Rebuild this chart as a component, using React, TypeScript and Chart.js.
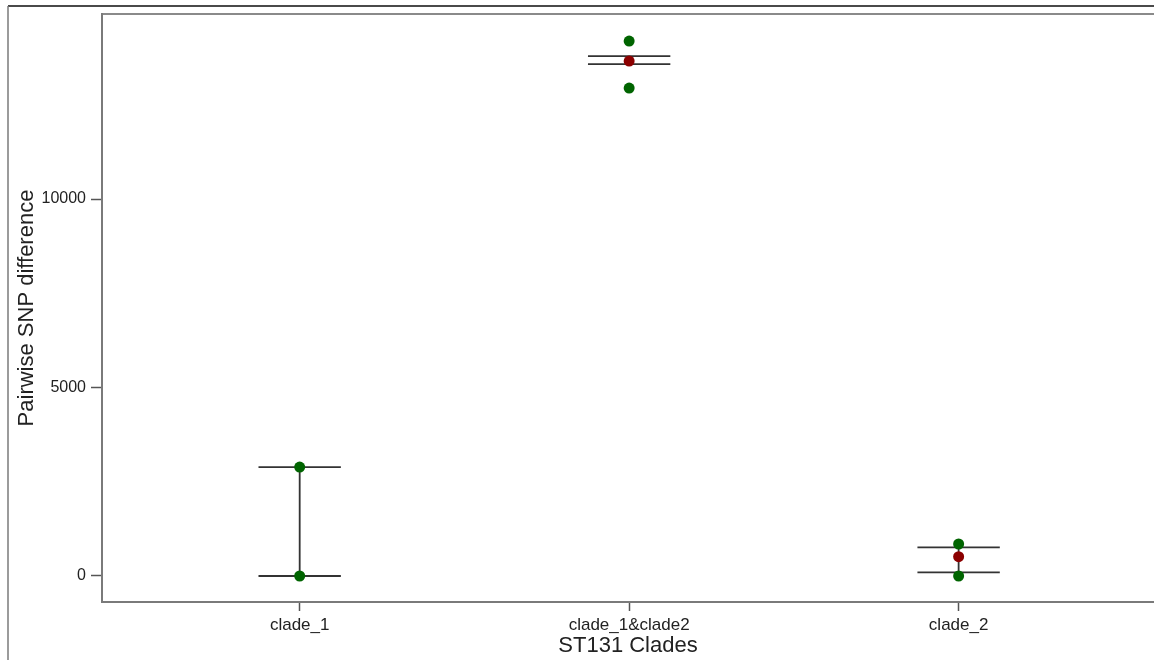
import React, { useEffect, useRef } from "react";
import { Chart, registerables } from "chart.js";

Chart.register(...registerables);

// ---- Data ----
const categories = ["clade_1", "clade_1&clade2", "clade_2"];
const greenValues: number[][] = [[0, 2890], [12944, 14191], [0, 849]];
const redValues: (number | null)[] = [null, 13660, 512];
const barLow = [0, 13581, 98];
const barHigh = [2890, 13793, 761];
const yTicks = [0, 5000, 10000];
const yMin = -690;
const yMax = 14910;
const xMin = -0.6;
const xMax = 2.593;
const whiskerHalf = 0.125;

const FONT = "'Liberation Sans', Arial, Helvetica, sans-serif";

function buildErrorBars() {
  const pts: { x: number; y: number | null }[] = [];
  categories.forEach((_, i) => {
    pts.push({ x: i - whiskerHalf, y: barLow[i] }, { x: i + whiskerHalf, y: barLow[i] }, { x: i, y: null });
    pts.push({ x: i - whiskerHalf, y: barHigh[i] }, { x: i + whiskerHalf, y: barHigh[i] }, { x: i, y: null });
    pts.push({ x: i, y: barLow[i] }, { x: i, y: barHigh[i] }, { x: i, y: null });
  });
  return pts;
}

const framePlugin = {
  id: "frame",
  beforeDraw(chart: any) {
    const ctx = chart.ctx;
    ctx.save();
    ctx.fillStyle = "#ffffff";
    ctx.fillRect(0, 0, chart.width, chart.height);
    // outer frame
    ctx.strokeStyle = "#4a4a4a";
    ctx.lineWidth = 2;
    ctx.beginPath();
    ctx.moveTo(8, 6);
    ctx.lineTo(chart.width, 6);
    ctx.stroke();
    ctx.strokeStyle = "#7a7a7a";
    ctx.lineWidth = 1.5;
    ctx.beginPath();
    ctx.moveTo(8, 6);
    ctx.lineTo(8, chart.height);
    ctx.stroke();
    // top border of plot panel
    const a = chart.chartArea;
    ctx.strokeStyle = "#8a8a8a";
    ctx.lineWidth = 2;
    ctx.beginPath();
    ctx.moveTo(a.left, a.top);
    ctx.lineTo(chart.width, a.top);
    ctx.stroke();
    ctx.restore();
  },
};

export default function App() {
  const ref = useRef<HTMLCanvasElement | null>(null);

  useEffect(() => {
    if (!ref.current) return;
    Chart.defaults.font.family = FONT;
    const green = greenValues.flatMap((vals, i) => vals.map((v) => ({ x: i, y: v })));
    const red = redValues
      .map((v, i) => (v === null ? null : { x: i, y: v }))
      .filter((p) => p !== null);

    const chart = new Chart(ref.current, {
      type: "scatter",
      data: {
        datasets: [
          {
            label: "range",
            data: buildErrorBars() as any,
            showLine: true,
            spanGaps: false,
            borderColor: "#333333",
            borderWidth: 1.8,
            pointRadius: 0,
            order: 3,
          },
          {
            label: "values",
            data: green as any,
            pointRadius: 5.5,
            pointBackgroundColor: "#006400",
            pointBorderWidth: 0,
            borderWidth: 0,
            order: 2,
          },
          {
            label: "mean",
            data: red as any,
            pointRadius: 5.5,
            pointBackgroundColor: "#8B0000",
            pointBorderWidth: 0,
            borderWidth: 0,
            order: 1,
          },
        ],
      },
      options: {
        responsive: false,
        animation: false,
        devicePixelRatio: 1,
        layout: { autoPadding: false, padding: { left: 10, top: 14, right: 0, bottom: 0 } },
        plugins: { legend: { display: false }, tooltip: { enabled: false } },
        scales: {
          x: {
            type: "linear",
            min: xMin,
            max: xMax,
            afterBuildTicks: (s: any) => {
              s.ticks = categories.map((_, i) => ({ value: i }));
            },
            afterFit: (s: any) => {
              s.height = 58;
              s.paddingLeft = 0;
              s.paddingRight = 0;
            },
            ticks: {
              callback: (v: any) => categories[v] ?? "",
              font: { size: 17 },
              color: "#222222",
              padding: 4,
              maxRotation: 0,
              autoSkip: false,
            },
            grid: {
              drawOnChartArea: false,
              drawTicks: true,
              tickLength: 9,
              tickColor: "#555555",
              tickWidth: 1.5,
            },
            border: { display: true, color: "#7a7a7a", width: 2 },
            title: {
              display: true,
              text: "ST131 Clades",
              font: { size: 22 },
              color: "#222222",
              padding: { top: 0, bottom: 1 },
            },
          },
          y: {
            type: "linear",
            min: yMin,
            max: yMax,
            afterBuildTicks: (s: any) => {
              s.ticks = yTicks.map((v) => ({ value: v }));
            },
            afterFit: (s: any) => {
              s.width = 92;
              s.paddingTop = 0;
              s.paddingBottom = 0;
            },
            ticks: {
              font: { size: 16 },
              color: "#222222",
              padding: 5,
              callback: (v: any) => String(v),
            },
            grid: {
              drawOnChartArea: false,
              drawTicks: true,
              tickLength: 11,
              tickColor: "#555555",
              tickWidth: 1.5,
            },
            border: { display: true, color: "#7a7a7a", width: 2 },
            title: {
              display: true,
              text: "Pairwise SNP difference",
              font: { size: 22 },
              color: "#222222",
              padding: { top: 4, bottom: 0 },
            },
          },
        },
      },
      plugins: [framePlugin],
    });
    return () => chart.destroy();
  }, []);

  return (
    <div style={{ position: "fixed", left: 0, top: 0, width: 1154, height: 660, background: "#fff" }}>
      <canvas ref={ref} width={1154} height={660} style={{ display: "block" }} />
    </div>
  );
}
